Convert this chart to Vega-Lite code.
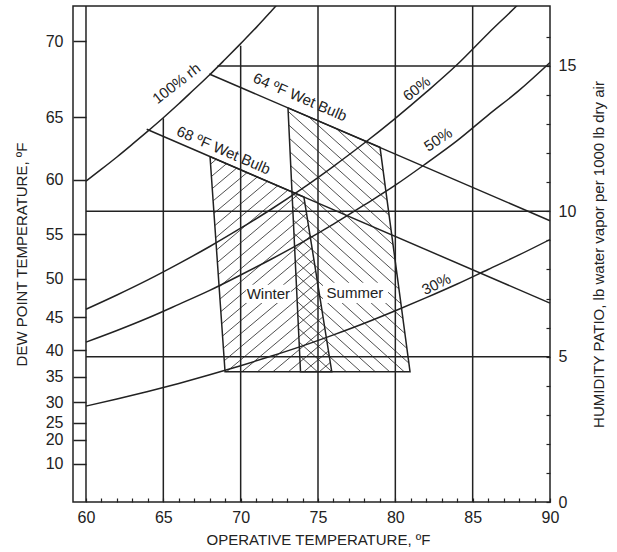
{
"$schema":"https://vega.github.io/schema/vega-lite/v6.json",
"width":477,"height":496,
"autosize":{"type":"none"},
"padding":{"left":73,"top":6,"right":67,"bottom":50},
"background":"white",
"config":{"view":{"stroke":"#222","strokeWidth":1.5},"font":"Liberation Sans",
 "axis":{"labelFont":"Liberation Sans","titleFont":"Liberation Sans","labelColor":"#222","titleColor":"#222","tickColor":"#222","titleFontWeight":"normal","domain":false,"grid":false,"labelFontSize":16,"titleFontSize":15}},
"datasets":{
 "hatch":[
  {"t":68.05,"w":11.62,"t2":68.42,"w2":11.79},{"t":68.11,"w":11.20,"t2":69.09,"w2":11.64},{"t":68.16,"w":10.78,"t2":69.75,"w2":11.49},{"t":68.22,"w":10.36,"t2":70.41,"w2":11.33},{"t":68.27,"w":9.93,"t2":71.07,"w2":11.18},{"t":68.33,"w":9.51,"t2":71.73,"w2":11.03},{"t":68.38,"w":9.09,"t2":72.39,"w2":10.88},{"t":68.44,"w":8.67,"t2":73.05,"w2":10.73},{"t":68.49,"w":8.24,"t2":73.71,"w2":10.58},{"t":68.55,"w":7.82,"t2":74.14,"w2":10.32},{"t":68.61,"w":7.40,"t2":74.26,"w2":9.92},{"t":68.66,"w":6.98,"t2":74.38,"w2":9.53},{"t":68.72,"w":6.55,"t2":74.49,"w2":9.14},{"t":68.77,"w":6.13,"t2":74.61,"w2":8.74},{"t":68.83,"w":5.71,"t2":74.73,"w2":8.35},{"t":68.88,"w":5.29,"t2":74.85,"w2":7.95},{"t":68.94,"w":4.86,"t2":74.97,"w2":7.56},{"t":69.09,"w":4.483,"t2":75.08,"w2":7.16},{"t":70.09,"w":4.483,"t2":75.20,"w2":6.77},{"t":71.09,"w":4.483,"t2":75.32,"w2":6.37},{"t":72.09,"w":4.483,"t2":75.44,"w2":5.98},{"t":73.09,"w":4.483,"t2":75.56,"w2":5.59},{"t":74.09,"w":4.483,"t2":75.67,"w2":5.19},{"t":75.09,"w":4.483,"t2":75.79,"w2":4.80},
  {"t":77.98,"w":12.43,"t2":79.08,"w2":11.90},{"t":76.19,"w":12.84,"t2":79.21,"w2":11.39},{"t":74.40,"w":13.25,"t2":79.34,"w2":10.89},{"t":73.07,"w":13.44,"t2":79.47,"w2":10.38},{"t":73.11,"w":12.97,"t2":79.59,"w2":9.87},{"t":73.15,"w":12.51,"t2":79.72,"w2":9.36},{"t":73.20,"w":12.04,"t2":79.85,"w2":8.85},{"t":73.24,"w":11.57,"t2":79.98,"w2":8.34},{"t":73.28,"w":11.10,"t2":80.11,"w2":7.84},{"t":73.32,"w":10.64,"t2":80.23,"w2":7.33},{"t":73.36,"w":10.17,"t2":80.36,"w2":6.82},{"t":73.40,"w":9.70,"t2":80.49,"w2":6.31},{"t":73.45,"w":9.24,"t2":80.62,"w2":5.80},{"t":73.49,"w":8.77,"t2":80.74,"w2":5.29},{"t":73.53,"w":8.30,"t2":80.87,"w2":4.78},{"t":73.57,"w":7.83,"t2":80.57,"w2":4.483},{"t":73.61,"w":7.37,"t2":79.63,"w2":4.483},{"t":73.65,"w":6.90,"t2":78.70,"w2":4.483},{"t":73.70,"w":6.43,"t2":77.77,"w2":4.483},{"t":73.74,"w":5.97,"t2":76.83,"w2":4.483},{"t":73.78,"w":5.50,"t2":75.90,"w2":4.483},{"t":73.82,"w":5.03,"t2":74.96,"w2":4.483}
 ],
 "mask":[{"t":70.35,"t2":73.25,"w":7.47,"w2":6.85},{"t":75.32,"t2":79.53,"w":7.54,"w2":6.85}],
 "grid":[
  {"t":60,"w":0,"t2":60,"w2":17.064},{"t":65,"w":0,"t2":65,"w2":13.2},{"t":70,"w":0,"t2":70,"w2":15.7},{"t":75,"w":0,"t2":75,"w2":17.064},{"t":80,"w":0,"t2":80,"w2":17.064},{"t":85,"w":0,"t2":85,"w2":17.064},
  {"t":60,"w":5,"t2":90,"w2":5},{"t":60,"w":10,"t2":90,"w2":10},{"t":68.5,"w":15,"t2":90,"w2":15}
 ],
 "wb":[{"t":67.97,"w":14.725,"t2":90,"w2":9.678},{"t":63.925,"w":12.822,"t2":90,"w2":6.843}],
 "rh":[
  {"c":"100","t":60,"w":11.04},{"c":"100","t":61,"w":11.45},{"c":"100","t":62,"w":11.87},{"c":"100","t":63,"w":12.31},{"c":"100","t":64,"w":12.76},{"c":"100","t":65,"w":13.22},{"c":"100","t":66,"w":13.70},{"c":"100","t":67,"w":14.20},{"c":"100","t":68,"w":14.70},{"c":"100","t":69,"w":15.23},{"c":"100","t":70,"w":15.77},{"c":"100","t":71,"w":16.32},{"c":"100","t":72,"w":16.90},{"c":"100","t":73,"w":17.49},
  {"c":"60","t":60,"w":6.63},{"c":"60","t":62,"w":7.12},{"c":"60","t":64,"w":7.64},{"c":"60","t":66,"w":8.20},{"c":"60","t":68,"w":8.79},{"c":"60","t":70,"w":9.42},{"c":"60","t":72,"w":10.08},{"c":"60","t":74,"w":10.79},{"c":"60","t":76,"w":11.55},{"c":"60","t":78,"w":12.35},{"c":"60","t":80,"w":13.20},{"c":"60","t":82,"w":14.10},{"c":"60","t":84,"w":15.05},{"c":"60","t":86,"w":16.12},{"c":"60","t":88,"w":17.15},{"c":"60","t":89,"w":17.70},
  {"c":"50","t":60,"w":5.50},{"c":"50","t":62,"w":5.90},{"c":"50","t":64,"w":6.33},{"c":"50","t":66,"w":6.80},{"c":"50","t":68,"w":7.28},{"c":"50","t":70,"w":7.81},{"c":"50","t":72,"w":8.36},{"c":"50","t":74,"w":8.94},{"c":"50","t":76,"w":9.56},{"c":"50","t":78,"w":10.22},{"c":"50","t":80,"w":10.90},{"c":"50","t":82,"w":11.65},{"c":"50","t":84,"w":12.43},{"c":"50","t":86,"w":13.31},{"c":"50","t":88,"w":14.16},{"c":"50","t":90,"w":15.12},
  {"c":"30","t":60,"w":3.30},{"c":"30","t":62,"w":3.54},{"c":"30","t":64,"w":3.80},{"c":"30","t":66,"w":4.08},{"c":"30","t":68,"w":4.38},{"c":"30","t":70,"w":4.69},{"c":"30","t":72,"w":5.02},{"c":"30","t":74,"w":5.37},{"c":"30","t":76,"w":5.75},{"c":"30","t":78,"w":6.15},{"c":"30","t":80,"w":6.58},{"c":"30","t":82,"w":7.03},{"c":"30","t":84,"w":7.50},{"c":"30","t":86,"w":8.00},{"c":"30","t":88,"w":8.50},{"c":"30","t":90,"w":9.03}
 ],
 "zone":[
  {"z":"Winter","i":0,"t":68.02,"w":11.88},{"z":"Winter","i":1,"t":74.09,"w":10.49},{"z":"Winter","i":2,"t":75.89,"w":4.483},{"z":"Winter","i":3,"t":68.99,"w":4.483},{"z":"Winter","i":4,"t":68.02,"w":11.88},
  {"z":"Summer","i":0,"t":73.06,"w":13.56},{"z":"Summer","i":1,"t":79.01,"w":12.20},{"z":"Summer","i":2,"t":80.95,"w":4.483},{"z":"Summer","i":3,"t":73.87,"w":4.483},{"z":"Summer","i":4,"t":73.06,"w":13.56}
 ],
 "labels":[
  {"text":"100% rh","t":65.85,"w":14.40},{"text":"60%","t":81.38,"w":14.22},{"text":"50%","t":82.76,"w":12.47},{"text":"30%","t":82.65,"w":7.49},
  {"text":"64 ºF Wet Bulb","t":73.84,"w":13.93},{"text":"68 ºF Wet Bulb","t":68.89,"w":12.10},
  {"text":"Winter","t":71.79,"w":7.15},{"text":"Summer","t":77.39,"w":7.20}
 ]
},
"resolve":{"axis":{"x":"independent","y":"independent"}},
"layer":[
 {"data":{"name":"hatch"},"mark":{"type":"rule","stroke":"#222","strokeWidth":0.8},
  "encoding":{
   "x":{"field":"t","type":"quantitative","scale":{"domain":[59.16,90],"nice":false,"zero":false},
     "axis":{"orient":"bottom","values":[60,61,62,63,64,65,66,67,68,69,70,71,72,73,74,75,76,77,78,79,80,81,82,83,84,85,86,87,88,89,90],"labelExpr":"datum.value % 5 === 0 ? datum.label : ''","tickSize":-4,"tickWidth":1.2,"labelPadding":11,"labelFlush":false,"labelOverlap":false,"title":"OPERATIVE TEMPERATURE, ºF","titlePadding":7,"titleX":245}},
   "y":{"field":"w","type":"quantitative","scale":{"domain":[0,17.064],"nice":false,"zero":false},
     "axis":{"orient":"left","values":[1.318,2.143,2.728,3.44,4.311,5.219,6.354,7.672,9.21,11.078,13.235,15.85],"labelExpr":"datum.value < 1.5 ? '10' : datum.value < 2.5 ? '20' : datum.value < 3 ? '25' : datum.value < 4 ? '30' : datum.value < 4.8 ? '35' : datum.value < 5.8 ? '40' : datum.value < 7 ? '45' : datum.value < 8.5 ? '50' : datum.value < 10 ? '55' : datum.value < 12 ? '60' : datum.value < 14.5 ? '65' : '70'","tickSize":-13,"tickWidth":1.5,"labelPadding":23,"labelOverlap":false,"title":"DEW POINT TEMPERATURE, ºF","titlePadding":16}},
   "x2":{"field":"t2"},"y2":{"field":"w2"}}},
 {"data":{"name":"mask"},"mark":{"type":"rect","fill":"white"},
  "encoding":{"x":{"field":"t","type":"quantitative","axis":null},"x2":{"field":"t2"},"y":{"field":"w","type":"quantitative","axis":null},"y2":{"field":"w2"}}},
 {"data":{"name":"grid"},"mark":{"type":"rule","stroke":"#222","strokeWidth":1.5},
  "encoding":{"x":{"field":"t","type":"quantitative","axis":null},"x2":{"field":"t2"},"y":{"field":"w","type":"quantitative","axis":null},"y2":{"field":"w2"}}},
 {"data":{"name":"wb"},"mark":{"type":"rule","stroke":"#222","strokeWidth":1.5},
  "encoding":{"x":{"field":"t","type":"quantitative","axis":null},"x2":{"field":"t2"},"y":{"field":"w","type":"quantitative","axis":null},"y2":{"field":"w2"}}},
 {"data":{"name":"rh"},"mark":{"type":"line","stroke":"#222","strokeWidth":1.5,"interpolate":"monotone","clip":true},
  "encoding":{"x":{"field":"t","type":"quantitative","axis":null},
   "y":{"field":"w","type":"quantitative",
     "axis":{"orient":"right","values":[0,1,2,3,4,5,6,7,8,9,10,11,12,13,14,15,16],"labelExpr":"datum.value % 5 === 0 ? datum.label : ''","tickSize":-4,"tickWidth":1.2,"labelPadding":12,"labelOverlap":false,"labelFlush":false,"title":"HUMIDITY PATIO, lb water vapor per 1000 lb dry air","titleAngle":270,"titlePadding":31}},
   "detail":{"field":"c"}}},
 {"data":{"name":"zone"},"mark":{"type":"line","stroke":"#222","strokeWidth":1.5},
  "encoding":{"x":{"field":"t","type":"quantitative","axis":null},"y":{"field":"w","type":"quantitative","axis":null},"detail":{"field":"z"},"order":{"field":"i"}}},
 {"data":{"name":"labels"},"transform":[{"filter":"datum.text === '100% rh' || datum.text === '60%'"}],"mark":{"type":"text","fontSize":15,"angle":-38,"align":"center","baseline":"middle","fill":"#222"},
  "encoding":{"x":{"field":"t","type":"quantitative","axis":null},"y":{"field":"w","type":"quantitative","axis":null},"text":{"field":"text"}}},
 {"data":{"name":"labels"},"transform":[{"filter":"datum.text === '50%'"}],"mark":{"type":"text","fontSize":15,"angle":-33,"align":"center","baseline":"middle","fill":"#222"},
  "encoding":{"x":{"field":"t","type":"quantitative","axis":null},"y":{"field":"w","type":"quantitative","axis":null},"text":{"field":"text"}}},
 {"data":{"name":"labels"},"transform":[{"filter":"datum.text === '30%'"}],"mark":{"type":"text","fontSize":15,"angle":-26,"align":"center","baseline":"middle","fill":"#222"},
  "encoding":{"x":{"field":"t","type":"quantitative","axis":null},"y":{"field":"w","type":"quantitative","axis":null},"text":{"field":"text"}}},
 {"data":{"name":"labels"},"transform":[{"filter":"indexof(datum.text, 'Wet') >= 0"}],"mark":{"type":"text","fontSize":15,"angle":23.3,"align":"center","baseline":"middle","fill":"#222"},
  "encoding":{"x":{"field":"t","type":"quantitative","axis":null},"y":{"field":"w","type":"quantitative","axis":null},"text":{"field":"text"}}},
 {"data":{"name":"labels"},"transform":[{"filter":"datum.text === 'Winter' || datum.text === 'Summer'"}],"mark":{"type":"text","fontSize":15,"align":"center","baseline":"middle","fill":"#222"},
  "encoding":{"x":{"field":"t","type":"quantitative","axis":null},"y":{"field":"w","type":"quantitative","axis":null},"text":{"field":"text"}}}
]
}
